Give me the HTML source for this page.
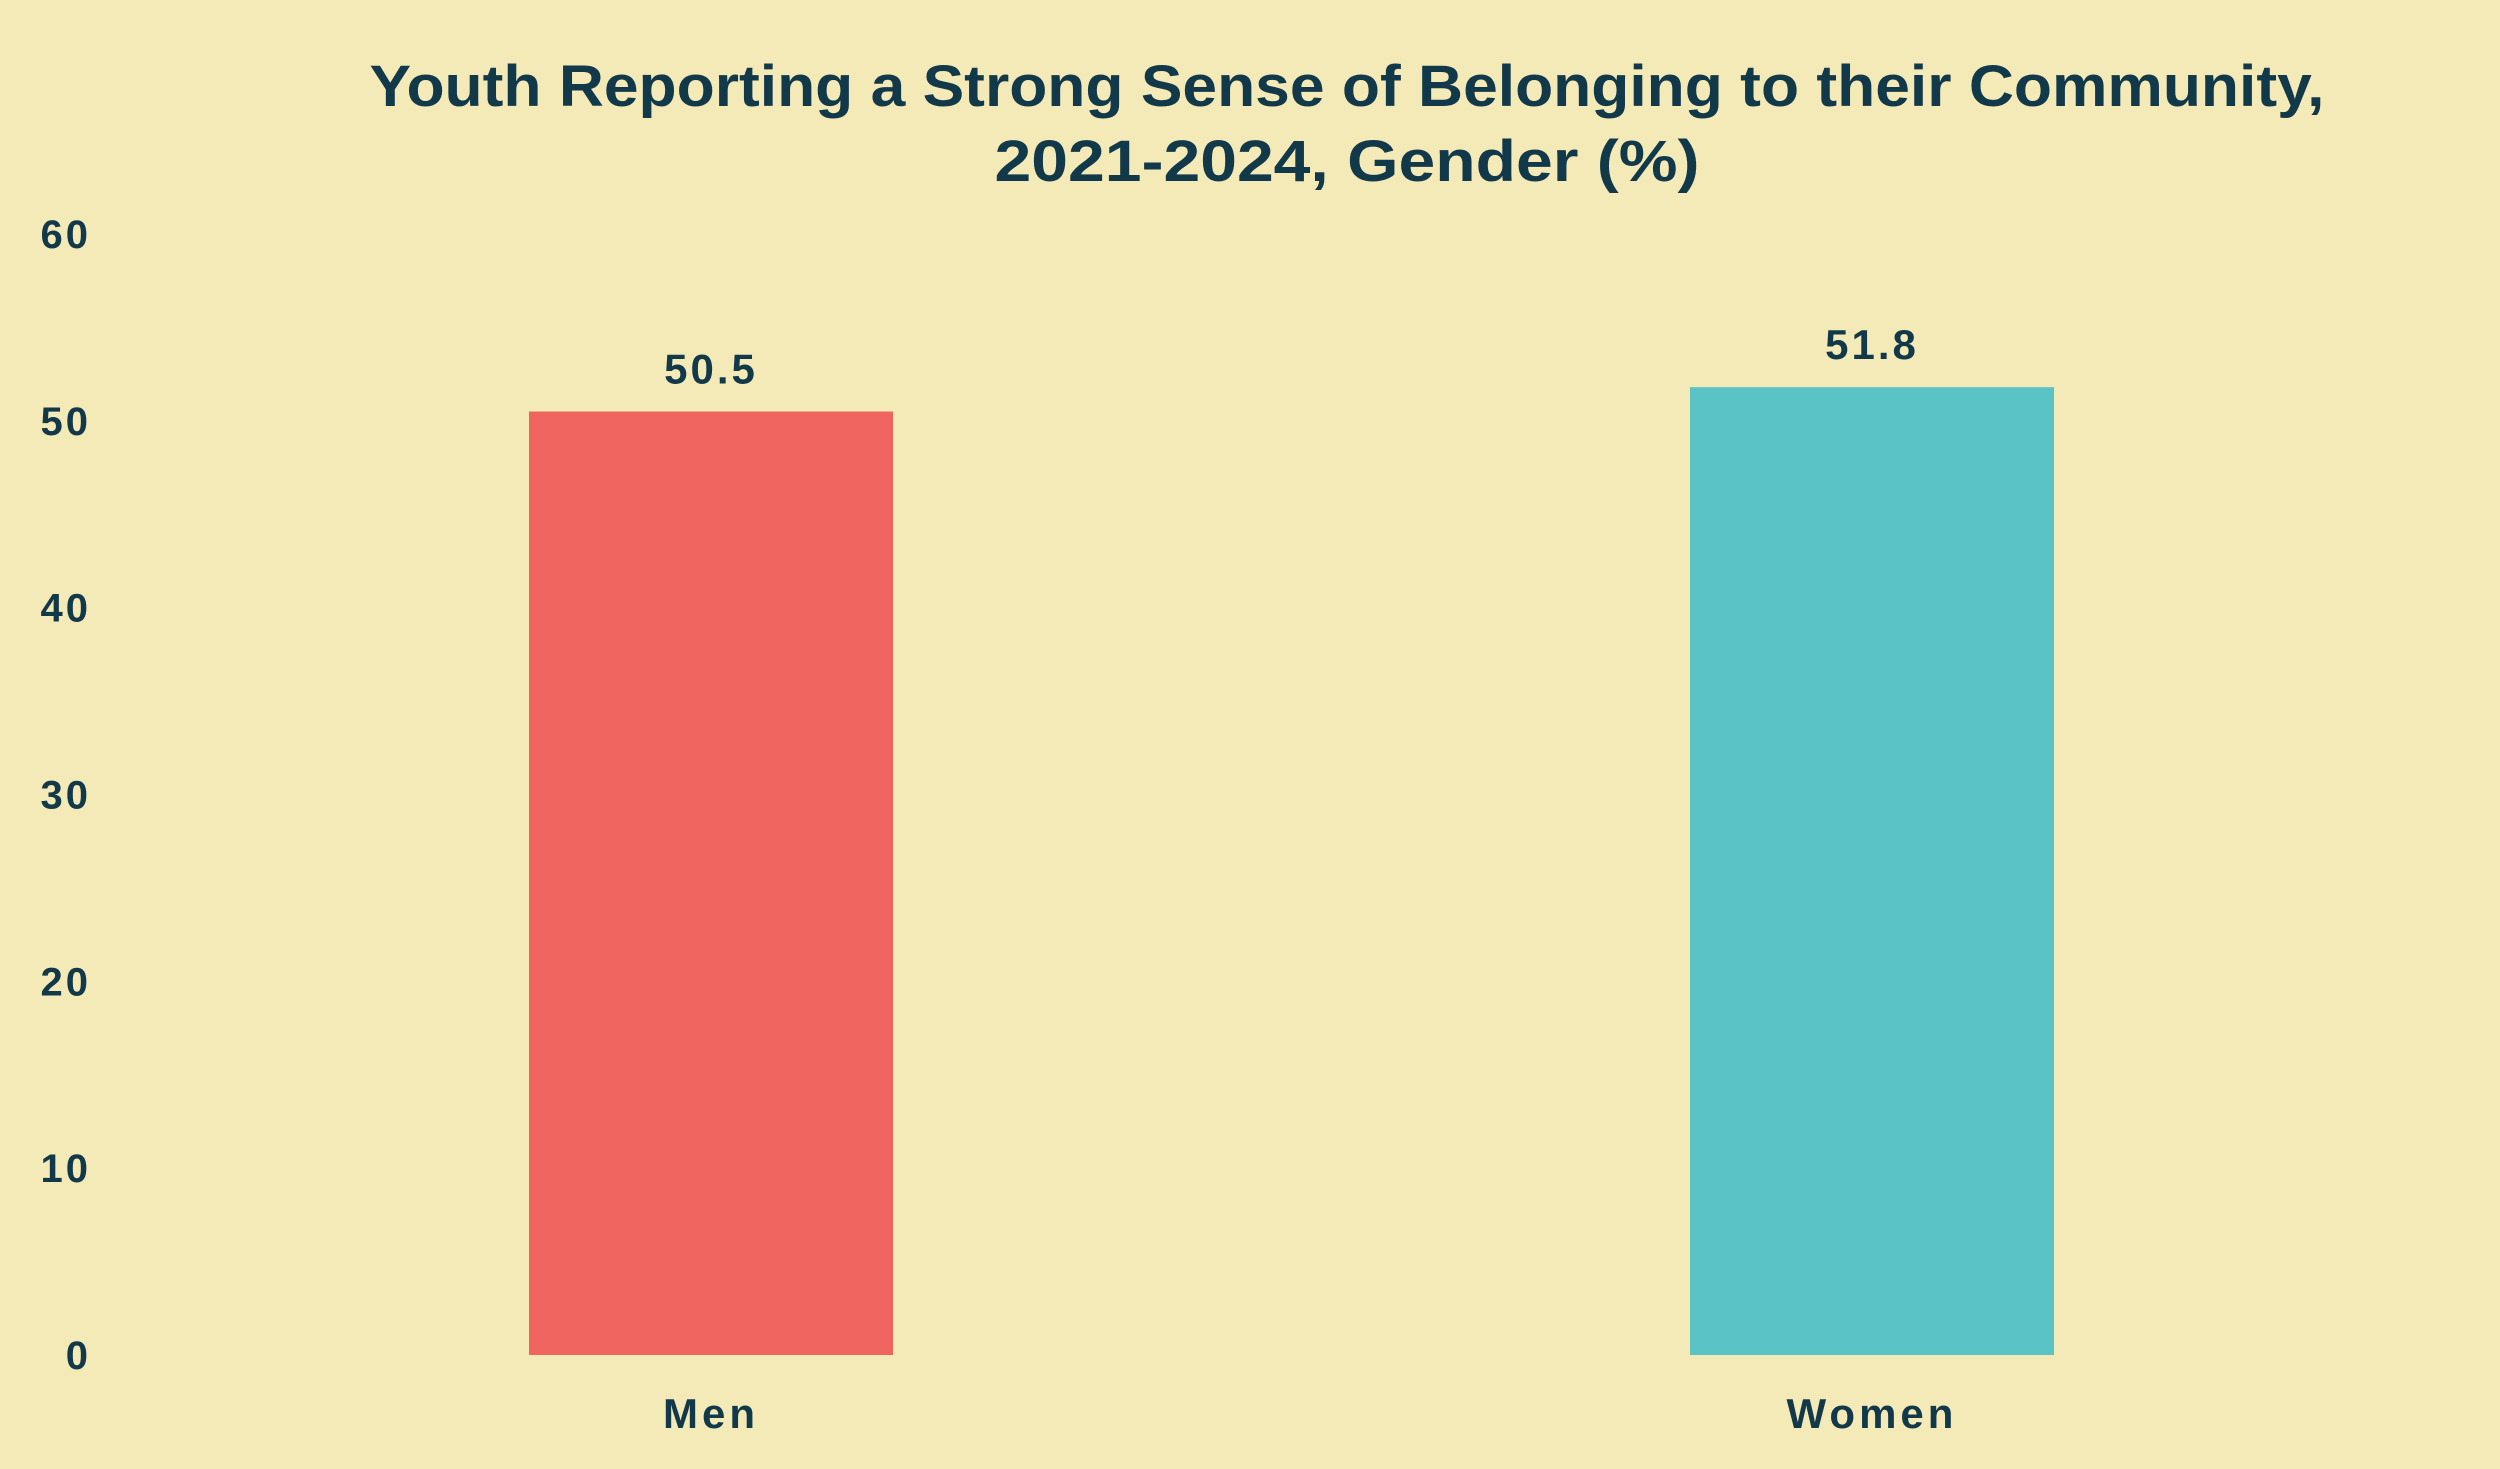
<!DOCTYPE html>
<html><head><meta charset="utf-8"><style>
html,body{margin:0;padding:0;background:#F4EAB7;}
svg{display:block;font-family:"Liberation Sans",sans-serif;font-weight:bold;}
</style></head><body>
<svg id="chart" width="2500" height="1469" viewBox="0 0 2500 1469">
<rect width="2500" height="1469" fill="#F4EAB7"/>
<text x="1347" y="106" text-anchor="middle" font-size="58" textLength="1955" lengthAdjust="spacingAndGlyphs" fill="#12394A">Youth Reporting a Strong Sense of Belonging to their Community,</text>
<text x="1347" y="181" text-anchor="middle" font-size="58" textLength="705" lengthAdjust="spacingAndGlyphs" fill="#12394A">2021-2024, Gender (%)</text>
<g id="yaxis"></g>
<g id="bars"></g>
</svg>
<script>
const categories = ["Men", "Women"];
const values = [50.5, 51.8];
const valueLabels = ["50.5", "51.8"];
const yTicks = [0, 10, 20, 30, 40, 50, 60];
const colors = ["#F0645F", "#59C3C5"];

const NS = "http://www.w3.org/2000/svg";
const y0 = 1355, yTop = 234, yMax = 60;
function yScale(v){ return y0 - (v / yMax) * (y0 - yTop); }
const centers = [711, 1872];
function xScale(i){ return centers[0] + i * (centers[1] - centers[0]); }
const barW = 364;

const ya = document.getElementById('yaxis');
yTicks.forEach(t => {
  const tx = document.createElementNS(NS, 'text');
  
  
  tx.setAttribute('x', 91);
  tx.setAttribute('y', yScale(t) + 14);
  tx.setAttribute('text-anchor', 'end');
  tx.setAttribute('font-size', '40');
  tx.setAttribute('fill', '#12394A');
  tx.setAttribute('letter-spacing', '3');
  tx.textContent = t;
  ya.appendChild(tx);
});

const bg = document.getElementById('bars');
categories.forEach((c, i) => {
  const cx = xScale(i);
  const r = document.createElementNS(NS, 'rect');
  
  
  r.setAttribute('x', cx - barW / 2);
  r.setAttribute('y', yScale(values[i]));
  r.setAttribute('width', barW);
  r.setAttribute('height', y0 - yScale(values[i]));
  r.setAttribute('fill', colors[i]);
  bg.appendChild(r);

  const vl = document.createElementNS(NS, 'text');
  
  
  vl.setAttribute('x', cx);
  vl.setAttribute('y', yScale(values[i]) - 28);
  vl.setAttribute('text-anchor', 'middle');
  vl.setAttribute('font-size', '42');
  vl.setAttribute('letter-spacing', '3');
  vl.setAttribute('fill', '#12394A');
  vl.textContent = valueLabels[i];
  bg.appendChild(vl);

  const cl = document.createElementNS(NS, 'text');
  
  
  cl.setAttribute('x', cx);
  cl.setAttribute('y', 1428);
  cl.setAttribute('text-anchor', 'middle');
  cl.setAttribute('font-size', '42');
  cl.setAttribute('letter-spacing', '4');
  cl.setAttribute('fill', '#12394A');
  cl.textContent = c;
  bg.appendChild(cl);
});
</script>
</body></html>
